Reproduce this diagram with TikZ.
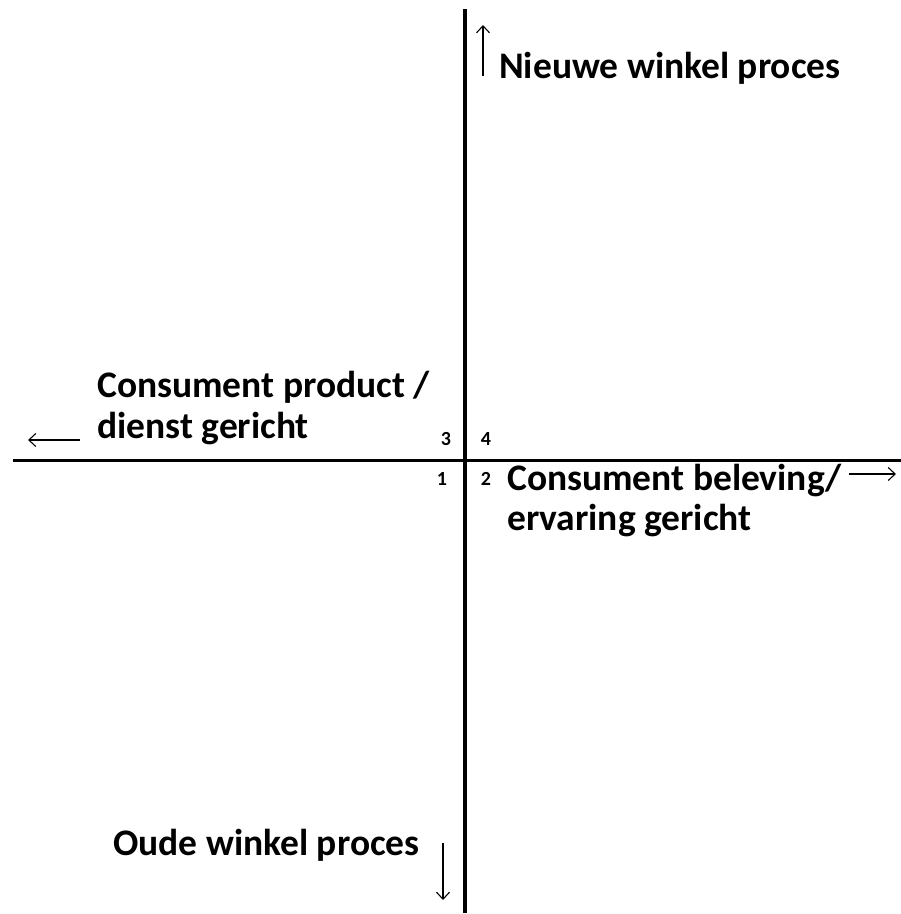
\documentclass[tikz,border=0pt]{standalone}
\usepackage{fontspec}
\setmainfont{Carlito}
\usetikzlibrary{arrows.meta}
\tikzset{
  axis/.style={line width=4pt,line cap=butt},
  haxis/.style={line width=3pt,line cap=butt},
  dirarrow/.style={line width=1.1pt,-{Straight Barb[length=7pt,width=13pt,line width=1.1pt]}},
  label/.style={font=\fontsize{37.5}{40}\selectfont\bfseries,inner sep=0pt,align=left},
  num/.style={font=\fontsize{20}{22}\selectfont\bfseries,inner sep=0pt}
}
\begin{document}
\begin{tikzpicture}[x=1pt,y=-1pt]
\useasboundingbox (0,0) rectangle (901,914);
% axes
\coordinate (vtop) at (465,9);
\coordinate (vbot) at (465,913);
\coordinate (hl) at (13,460);
\coordinate (hr) at (901,460);
\draw[axis] (vtop) -- (vbot);
\draw[haxis] (hl) -- (hr);
% direction arrows
\coordinate (upS) at (483,76);
\coordinate (upE) at (483,25);
\draw[dirarrow] (upS) -- (upE);
\coordinate (leftS) at (80,440);
\coordinate (leftE) at (28,440);
\draw[dirarrow] (leftS) -- (leftE);
\coordinate (rightS) at (849,474);
\coordinate (rightE) at (896,474);
\draw[dirarrow] (rightS) -- (rightE);
\coordinate (downS) at (443,843);
\coordinate (downE) at (443,900);
\draw[dirarrow] (downS) -- (downE);
% labels
\node[label,anchor=base west] (nieuw) at (499,78) {Nieuwe winkel proces};
\node[label,anchor=base west] (cp1) at (97,397) {Consument product /};
\node[label,anchor=base west] (cp2) at (97,438) {dienst gericht};
\node[label,anchor=base west] (cb1) at (507,490) {Consument beleving/};
\node[label,anchor=base west] (cb2) at (507,530) {ervaring gericht};
\node[label,anchor=base west] (oude) at (113,855) {Oude winkel proces};
% quadrant numbers
\node[num,anchor=base] (n3) at (446,445) {3};
\node[num,anchor=base] (n4) at (486,445) {4};
\node[num,anchor=base] (n1) at (442,485) {1};
\node[num,anchor=base] (n2) at (486,485) {2};
\end{tikzpicture}
\end{document}
